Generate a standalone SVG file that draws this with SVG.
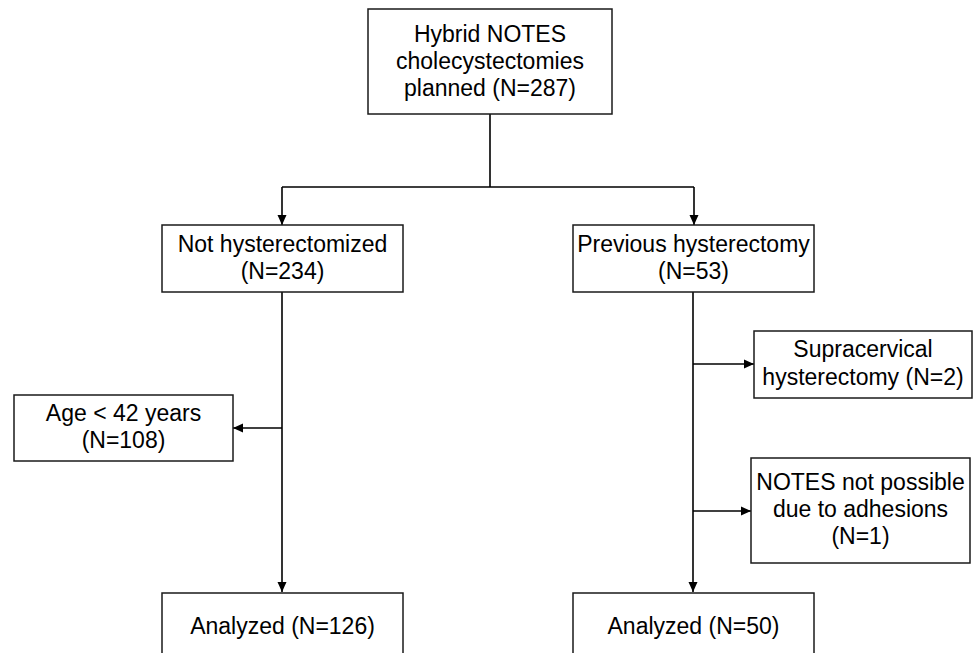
<svg xmlns="http://www.w3.org/2000/svg" width="973" height="653" viewBox="0 0 973 653">
<style>
.box{fill:#fff;stroke:#1a1a1a;stroke-width:1.5}
.lbl{font-family:"Liberation Sans",Arial,sans-serif;font-size:23px;fill:#000;text-anchor:middle}
.con{fill:none;stroke:#000;stroke-width:1.6}
</style>
<defs>
<marker id="arr" viewBox="0 0 10 10" refX="10" refY="5" markerWidth="10" markerHeight="10" markerUnits="userSpaceOnUse" orient="auto">
<path d="M0,0.5 L10,5 L0,9.5 Z" fill="#000"/>
</marker>
</defs>
<rect width="973" height="653" fill="#fff"/>
<g id="connectors">
<path class="con" d="M490,114 V187 M282,187 H694"/>
<path class="con" d="M282,187 V225" marker-end="url(#arr)"/>
<path class="con" d="M694,187 V225" marker-end="url(#arr)"/>
<path class="con" d="M282,292 V592" marker-end="url(#arr)"/>
<path class="con" d="M282,428 H233" marker-end="url(#arr)"/>
<path class="con" d="M693,292 V592" marker-end="url(#arr)"/>
<path class="con" d="M693,364 H754" marker-end="url(#arr)"/>
<path class="con" d="M693,511 H751" marker-end="url(#arr)"/>
</g>
<g id="planned">
<rect class="box" x="368" y="9" width="244" height="105"/>
<text class="lbl" x="490" y="42">Hybrid NOTES</text>
<text class="lbl" x="490" y="69">cholecystectomies</text>
<text class="lbl" x="490" y="96">planned (N=287)</text>
</g>
<g id="not-hyst">
<rect class="box" x="162" y="225" width="241" height="67"/>
<text class="lbl" x="282.5" y="252">Not hysterectomized</text>
<text class="lbl" x="282.5" y="279">(N=234)</text>
</g>
<g id="prev-hyst">
<rect class="box" x="573" y="225" width="241" height="67"/>
<text class="lbl" x="693.5" y="252">Previous hysterectomy</text>
<text class="lbl" x="693.5" y="279">(N=53)</text>
</g>
<g id="age">
<rect class="box" x="14" y="395" width="219" height="66"/>
<text class="lbl" x="123.5" y="421">Age &lt; 42 years</text>
<text class="lbl" x="123.5" y="448">(N=108)</text>
</g>
<g id="supracervical">
<rect class="box" x="754" y="331" width="218" height="67"/>
<text class="lbl" x="863" y="357">Supracervical</text>
<text class="lbl" x="863" y="385">hysterectomy (N=2)</text>
</g>
<g id="adhesions">
<rect class="box" x="751" y="458" width="219" height="105"/>
<text class="lbl" x="860.5" y="490">NOTES not possible</text>
<text class="lbl" x="860.5" y="517">due to adhesions</text>
<text class="lbl" x="860.5" y="544">(N=1)</text>
</g>
<g id="analyzed-left">
<rect class="box" x="162" y="593" width="241" height="90"/>
<text class="lbl" x="282.5" y="634">Analyzed (N=126)</text>
</g>
<g id="analyzed-right">
<rect class="box" x="573" y="593" width="241" height="90"/>
<text class="lbl" x="693.5" y="634">Analyzed (N=50)</text>
</g>
</svg>
